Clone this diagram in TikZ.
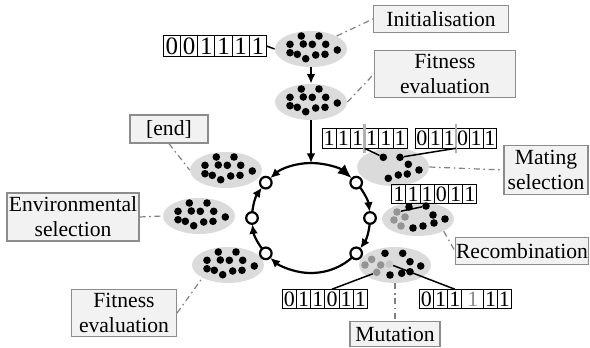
\documentclass[tikz,border=0pt]{standalone}
\usepackage{fontspec}
\setmainfont{Liberation Serif}
\usetikzlibrary{shapes.geometric, arrows.meta, positioning, calc}

\tikzset{
  pop/.style = {ellipse, fill=gray!28, minimum width=36pt, minimum height=18pt, inner sep=0pt},
  dot/.style = {circle, fill=black, inner sep=0pt, minimum size=3.8pt},
  gdot/.style = {dot, fill=black!42},
  ldot/.style = {dot, fill=black!22},
  lbl/.style = {draw=black!45, fill=black!5, line width=0.6pt, align=center, inner sep=0pt,
    font=\fontsize{10.8}{12.5}\selectfont},
  cell/.style = {draw, line width=0.5pt, minimum width=7.1pt, minimum height=9.8pt,
    inner sep=0pt, outer sep=0pt, font=\fontsize{11}{12}\selectfont},
  bigcell/.style = {cell, minimum width=8.6pt, minimum height=10.8pt, font=\fontsize{12.5}{12}\selectfont},
  flow/.style = {line width=1.1pt, -{Latex[length=4.8pt, width=4.4pt]}},
  bigflow/.style = {line width=1.1pt, -{Latex[length=7pt, width=6pt]}},
  gate/.style = {circle, draw, fill=white, line width=1.1pt, minimum size=5.8pt, inner sep=0pt},
  leader/.style = {draw=gray, line width=0.6pt, dash pattern=on 3pt off 1.8pt on 0.8pt off 1.8pt},
  cut/.style = {draw=black!30, line width=1.2pt},
  link/.style = {line width=0.75pt}
}

\def\stddots{-9.7/-13, 8/-13, -21/-4.7, -7.7/-5, 1.3/-4.7, 14.7/-4.7, -21/3.7, -13.7/5.3, -5.3/9.7, 4.7/6, 14/5.3, 26.3/1}
\def\matedots{-9.7/-9.7, 7/-9.7, 15.3/-2.7, 26/3, -4.7/11.3, 5.3/8, 14.3/7}
\def\recgray{-21/-7, -13/-2, -24/1, -17/7}
\def\recblack{-9/-12, 8/-13, 15/-4, 27/0, 16/4, 5/7, -5/9}
\def\mutgray{-23.3/-5.7, -30/0, -14.3/0, -18.3/7.3}
\def\mutlight{-5.7/-1}
\def\mutblack{-10/-11.7, 7.7/-11.7, 15/-3.3, 25.7/1, 15/6.7, 6.7/8.3, -5/10}

\newcommand\popdots[4][dot]{%
  \foreach \dx/\dy [count=\k] in #4 {
    \node[#1] (#2#3\k) at ([shift={(\dx,\dy)}]#2.center) {};
  }}

\newcommand\bitrow[4][cell]{%
  \foreach \bv [count=\i] in {#4} {
    \ifnum\i=1\relax
      \node[#1, anchor=west] (#2\i) at #3 {\bv};
    \else
      \pgfmathtruncatemacro\j{\i-1}
      \node[#1, right=0pt of #2\j] (#2\i) {\bv};
    \fi
  }}

\begin{document}
\begin{tikzpicture}[x=0.5pt, y=-0.5pt]
\useasboundingbox (0,0) rectangle (590,348);

\node[pop] (pop1) at (311,49) {};
\node[pop] (pop2) at (311,102) {};
\node[pop] (popend) at (226,170) {};
\node[pop] (popenv) at (199,216) {};
\node[pop] (popfit) at (228,265) {};
\node[pop, minimum height=19pt] (popmate) at (393,167) {};
\node[pop, minimum height=17pt] (poprec) at (418,219) {};
\node[pop] (popmut) at (395,265) {};

\popdots{pop1}{d}{\stddots}
\popdots{pop2}{d}{\stddots}
\popdots{popend}{d}{\stddots}
\popdots{popenv}{d}{\stddots}
\popdots{popfit}{d}{\stddots}
\popdots{popmate}{d}{\matedots}
\popdots[gdot]{poprec}{g}{\recgray}
\popdots{poprec}{d}{\recblack}
\popdots[gdot]{popmut}{g}{\mutgray}
\popdots[ldot]{popmut}{l}{\mutlight}
\popdots{popmut}{d}{\mutblack}

\bitrow[bigcell]{ib}{(163.3,46)}{0,0,1,1,1,1}
\bitrow{ml}{(322,138.5)}{1,1,1,1,1,1}
\bitrow[cell, minimum width=6.8pt]{mr}{(415,138.5)}{0,1,1,0,1,1}
\bitrow{rb}{(391.7,194)}{1,1,1,0,1,1}
\bitrow{mb}{(282.3,299)}{0,1,1,0,1,1}
\bitrow{nb}{(419.3,299)}{0,1,1}
\node[cell, minimum width=11pt, right=0pt of nb3, text=black!45] (nb4) {1};
\node[cell, minimum width=6.8pt, right=0pt of nb4] (nb5) {1};
\node[cell, minimum width=6.8pt, right=0pt of nb5] (nb6) {1};

\draw[cut] ([yshift=2.5pt]ml3.north east) -- ([yshift=-2.5pt]ml3.south east);
\draw[cut] ([yshift=2.5pt]mr3.north east) -- ([yshift=-2.5pt]mr3.south east);
\draw[link] (ib6.east) -- (pop1.west);
\draw[link] (ml3.south east) -- (popmated1);
\draw[link] (mr3.south east) -- (popmated2);
\draw[link] (poprecg1) -- (poprecd2);
\draw[link] (mb4.north) -- (popmutg4);
\draw[link] (nb3.north) -- (popmutl1);

\node[lbl, minimum width=67.5pt, minimum height=13.5pt] (initlbl) at (441,19) {Initialisation};
\node[lbl, minimum width=70.5pt, minimum height=23.5pt] (fitlbl) at (445,74) {Fitness\\evaluation};
\node[lbl, minimum width=39pt, minimum height=14pt] (endlbl) at (169,129) {[end]};
\node[lbl, minimum width=66pt, minimum height=24pt] (envlbl) at (73,217) {Environmental\\selection};
\node[lbl, minimum width=52.5pt, minimum height=23.5pt] (fit2lbl) at (124,313) {Fitness\\evaluation};
\node[lbl, minimum width=42pt, minimum height=24.5pt] (matelbl) at (546,170) {Mating\\selection};
\node[lbl, minimum width=66.5pt, minimum height=13.5pt] (reclbl) at (522,251) {Recombination};
\node[lbl, minimum width=45pt, minimum height=12.5pt] (mutlbl) at (395,334) {Mutation};

\draw[leader] (pop1.north east) -- (initlbl.west);
\draw[leader] (pop2.east) -- (fitlbl.west);
\draw[leader] (endlbl.south) -- (popend.west);
\draw[leader] (envlbl.east) -- (popenv.west);
\draw[leader] (fit2lbl.east) -- (popfit.south west);
\draw[leader] (popmate.east) -- (matelbl.west);
\draw[leader] (poprec.south east) -- (reclbl.west);
\draw[leader] (popmut.south) -- (mutlbl.north);

\coordinate (ring) at (311,218);
\coordinate (ringtop) at ($(ring)+(-90:59 and 55)$);
\draw[flow] (pop1) -- (pop2);
\draw[flow] (pop2) -- (ringtop);
\draw[bigflow] (ringtop) arc[start angle=-90, end angle=-46.5, x radius=59, y radius=55];
\draw[flow] ($(ring)+(-40:59 and 55)$) arc[start angle=-40, end angle=-6.5, x radius=59, y radius=55];
\draw[flow] ($(ring)+(0:59 and 55)$) arc[start angle=0, end angle=33.5, x radius=59, y radius=55];
\draw[flow] ($(ring)+(40:59 and 55)$) arc[start angle=40, end angle=133.5, x radius=59, y radius=55];
\draw[flow] ($(ring)+(140:59 and 55)$) arc[start angle=140, end angle=173.5, x radius=59, y radius=55];
\draw[flow] ($(ring)+(180:59 and 55)$) arc[start angle=180, end angle=213.5, x radius=59, y radius=55];
\draw[flow] (ringtop) arc[start angle=270, end angle=226.5, x radius=59, y radius=55];

\foreach \a [count=\n] in {-40, 0, 40, 140, 180, 220}
  \node[gate] (gate\n) at ($(ring)+(\a:59 and 55)$) {};

\end{tikzpicture}
\end{document}
